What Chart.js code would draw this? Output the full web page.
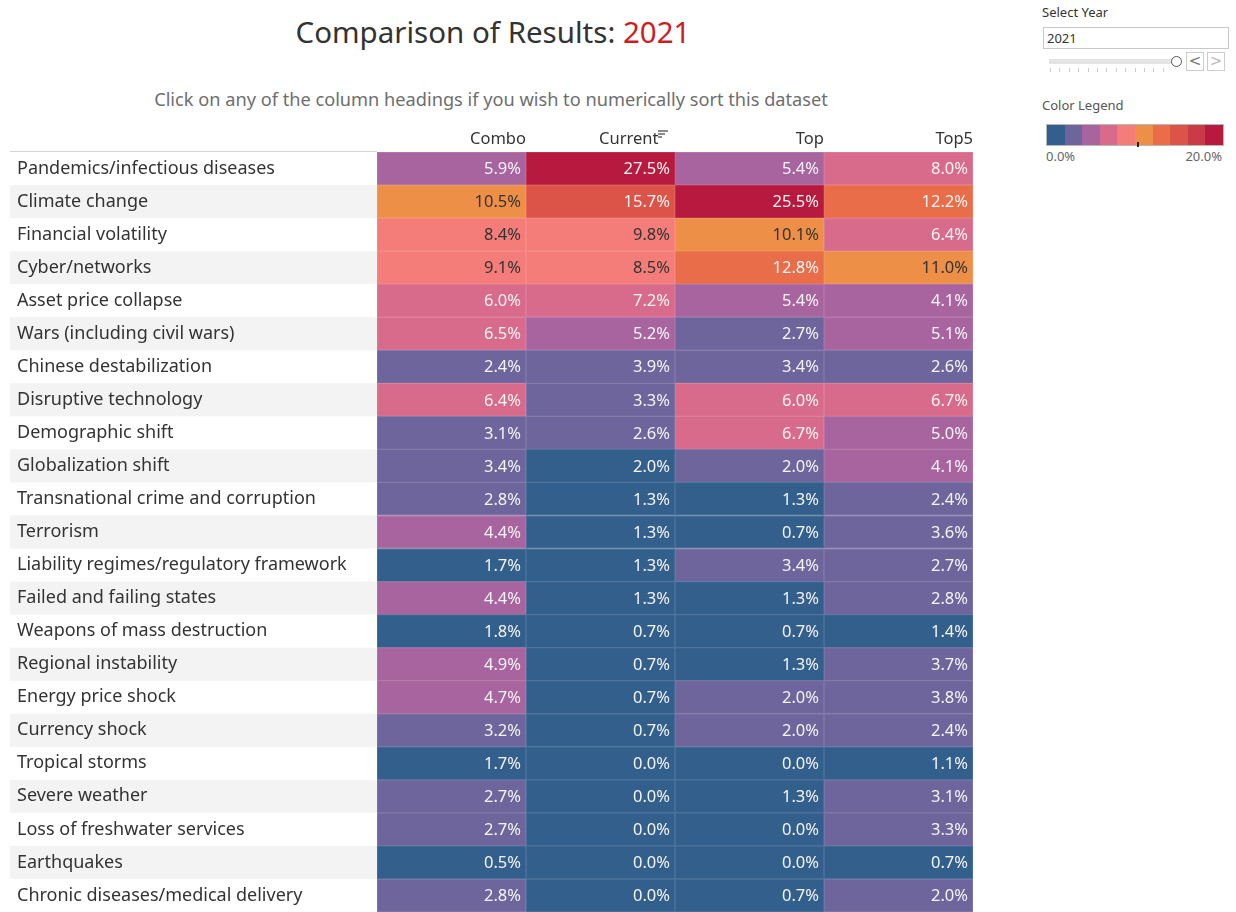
<!DOCTYPE html>
<html>
<head>
<meta charset="utf-8">
<script src="https://cdn.jsdelivr.net/npm/chart.js@4.4.1/dist/chart.umd.min.js"></script>
<style>
  body { margin: 0; background: #fff; font-family: 'Noto Sans', sans-serif; }
  #page { position: relative; width: 1236px; height: 912px; overflow: hidden; }
  #title { position: absolute; left: 0; width: 986px; top: 11px; text-align: center; font-size: 29.5px; color: #333; }
  #title span { color: #d01c1f; }
  #subtitle { position: absolute; left: 0; width: 982px; top: 87px; text-align: center; font-size: 18.2px; color: #6e6e6e; }
  #chartBox { position: absolute; left: 10px; top: 118px; width: 963px; height: 794px; }
  .panel { position: absolute; font-size: 13px; color: #333; }
  #yearBox { position: absolute; left: 1043px; top: 27px; width: 181px; height: 20px; border: 1px solid #c8c8c8; font-size: 13px; line-height: 20px; padding-left: 3px; box-sizing: content-box; color: #333; }
  #track { position: absolute; left: 1049px; top: 59px; width: 124px; height: 5px; background: #e4e4e4; }
  #knob { position: absolute; left: 1171px; top: 56px; width: 9px; height: 9px; border: 1.5px solid #555; border-radius: 50%; background: #fff; }
  .btn { position: absolute; top: 52px; width: 16px; height: 17px; border: 1px solid #ccc; color: #777; font-size: 15px; line-height: 16px; text-align: center; font-family: 'DejaVu Sans', sans-serif; }
  #ticks { position: absolute; left: 1050px; top: 68px; width: 122px; height: 4px;
    background: repeating-linear-gradient(90deg, #ccc 0 1px, transparent 1px 9.4px); }
  #legendBar { position: absolute; left: 1046px; top: 124px; width: 176px; height: 20px; border: 1px solid #b8b8b8; display: flex; }
  #legendBar div { flex: 1; }
  #legendMark { position: absolute; left: 1137px; top: 142px; width: 2px; height: 5px; background: #222; }
</style>
</head>
<body>
<div id="page">
  <div id="title">Comparison of Results: <span>2021</span></div>
  <div id="subtitle">Click on any of the column headings if you wish to numerically sort this dataset</div>
  <div id="chartBox"><canvas id="heat"></canvas></div>

  <div class="panel" style="left:1042px; top:3px;">Select Year</div>
  <div id="yearBox">2021</div>
  <div id="track"></div>
  <div id="knob"></div>
  <div class="btn" style="left:1186px;">&lt;</div>
  <div class="btn" style="left:1207px; color:#bbb;">&gt;</div>
  <div id="ticks"></div>
  <div class="panel" style="left:1042px; top:96px; color:#555;">Color Legend</div>
  <div id="legendBar"></div>
  <div id="legendMark"></div>
  <div class="panel" style="left:1046px; top:147px; color:#666;">0.0%</div>
  <div class="panel" style="left:1172px; top:147px; width:50px; text-align:right; color:#666;">20.0%</div>
</div>
<script>
const risks = [
  'Pandemics/infectious diseases', 'Climate change', 'Financial volatility', 'Cyber/networks',
  'Asset price collapse', 'Wars (including civil wars)', 'Chinese destabilization',
  'Disruptive technology', 'Demographic shift', 'Globalization shift',
  'Transnational crime and corruption', 'Terrorism', 'Liability regimes/regulatory framework',
  'Failed and failing states', 'Weapons of mass destruction', 'Regional instability',
  'Energy price shock', 'Currency shock', 'Tropical storms', 'Severe weather',
  'Loss of freshwater services', 'Earthquakes', 'Chronic diseases/medical delivery'
];
const columns = ['Combo', 'Current', 'Top', 'Top5'];

// percent values, one list per column
const combo = [5.9, 10.5, 8.4, 9.1, 6.0, 6.5, 2.4, 6.4, 3.1, 3.4, 2.8, 4.4, 1.7, 4.4, 1.8, 4.9, 4.7, 3.2, 1.7, 2.7, 2.7, 0.5, 2.8];
const current = [27.5, 15.7, 9.8, 8.5, 7.2, 5.2, 3.9, 3.3, 2.6, 1.98, 1.3, 1.3, 1.3, 1.3, 0.7, 0.7, 0.7, 0.7, 0.0, 0.0, 0.0, 0.0, 0.0];
const top1 = [5.4, 25.5, 10.1, 12.8, 5.4, 2.7, 3.4, 6.0, 6.7, 2.0, 1.3, 0.7, 3.4, 1.3, 0.7, 1.3, 2.0, 2.0, 0.0, 1.3, 0.0, 0.0, 0.7];
const top5 = [7.98, 12.2, 6.4, 11.0, 4.1, 5.1, 2.6, 6.7, 5.0, 4.1, 2.4, 3.6, 2.7, 2.8, 1.4, 3.7, 3.8, 2.4, 1.1, 3.1, 3.3, 0.7, 2.0];

// stepped colour scale, 0% .. 20% in 2% steps
const palette = ['#335f8c', '#6e659d', '#a8649f', '#d86b8c', '#f47d79',
                 '#ee8f47', '#ea6d4a', '#dc5347', '#cb3a47', '#b8193e'];

const bandOf = v => Math.min(palette.length - 1, Math.floor(v / 2));
const colorOf = v => palette[bandOf(v)];
const textColorOf = v => (bandOf(v) === 4 || bandOf(v) === 5) ? '#333' : '#f4f4f4';

// cell edge: the fill colour washed a little towards white
const lighten = (hex, k) => {
  const n = parseInt(hex.slice(1), 16);
  const ch = [n >> 16, (n >> 8) & 255, n & 255].map(c => Math.round(c + (255 - c) * k));
  return `rgb(${ch.join(',')})`;
};

document.getElementById('legendBar').innerHTML = palette.map(c => `<div style="background:${c}"></div>`).join('');

const series = [combo, current, top1, top5];
const FONT = "'Noto Sans', sans-serif";

const rowBands = {
  id: 'rowBands',
  beforeDraw(chart) {
    const { ctx, chartArea, scales: { y } } = chart;
    const step = (chartArea.bottom - chartArea.top) / risks.length;
    ctx.save();
    risks.forEach((r, i) => {
      if (i % 2 === 1) {
        const cy = y.getPixelForValue(i);
        ctx.fillStyle = '#f3f3f3';
        ctx.fillRect(0, cy - step / 2, chartArea.left, step);
      }
    });
    ctx.strokeStyle = '#d6d6d6';
    ctx.lineWidth = 1;
    ctx.beginPath();
    ctx.moveTo(0, chartArea.top - 0.5);
    ctx.lineTo(chartArea.left, chartArea.top - 0.5);
    ctx.stroke();
    ctx.restore();
  }
};

const cellLabels = {
  id: 'cellLabels',
  afterDatasetsDraw(chart) {
    const { ctx } = chart;
    ctx.save();
    ctx.font = `16.5px ${FONT}`;
    ctx.textAlign = 'right';
    ctx.textBaseline = 'middle';
    chart.data.datasets.forEach((ds, di) => {
      chart.getDatasetMeta(di).data.forEach((bar, i) => {
        const v = series[di][i];
        ctx.fillStyle = textColorOf(v);
        ctx.fillText(v.toFixed(1) + '%', bar.x - 5, bar.y + 1);
      });
    });
    // sort icon next to "Current"
    const x = chart.scales.x.getPixelForValue(2) - 17;
    ctx.strokeStyle = '#666';
    ctx.lineWidth = 1.5;
    [[10, 13], [7, 16], [4, 19]].forEach(([w, yy]) => {
      ctx.beginPath();
      ctx.moveTo(x, yy);
      ctx.lineTo(x + w, yy);
      ctx.stroke();
    });
    ctx.restore();
  }
};

new Chart(document.getElementById('heat'), {
  type: 'bar',
  data: {
    labels: risks,
    datasets: series.map((vals, ci) => ({
      label: columns[ci],
      data: vals.map(() => 1),
      backgroundColor: vals.map(colorOf),
      borderColor: vals.map(v => lighten(colorOf(v), 0.14)),
      borderWidth: 1,
      borderSkipped: false,
      barPercentage: 1,
      categoryPercentage: 1,
    })),
  },
  options: {
    indexAxis: 'y',
    responsive: true,
    maintainAspectRatio: false,
    animation: false,
    layout: { padding: { left: 7, right: 0, top: 0, bottom: 0 } },
    scales: {
      x: {
        type: 'linear',
        position: 'top',
        stacked: true,
        min: 0,
        max: 4,
        grid: { display: false, drawTicks: false },
        border: { display: false },
        ticks: {
          stepSize: 1,
          align: 'end',
          padding: 3,
          color: '#333',
          font: { family: FONT, size: 16.5 },
          callback: v => v === 2 ? 'Current\u2003' : (columns[v - 1] || ''),
        },
        afterFit: scale => {
          scale.height = 34;
          scale.paddingLeft = 0;
          scale.paddingRight = 0;
        },
      },
      y: {
        stacked: true,
        grid: { display: false, drawTicks: false },
        border: { display: false },
        ticks: {
          crossAlign: 'far',
          color: '#333',
          font: { family: FONT, size: 18 },
          autoSkip: false,
        },
        afterFit: scale => {
          scale.width = 360;
          scale.paddingTop = 0;
          scale.paddingBottom = 0;
        },
      },
    },
    plugins: {
      legend: { display: false },
      tooltip: { enabled: false },
    },
  },
  plugins: [rowBands, cellLabels],
});
</script>
</body>
</html>
